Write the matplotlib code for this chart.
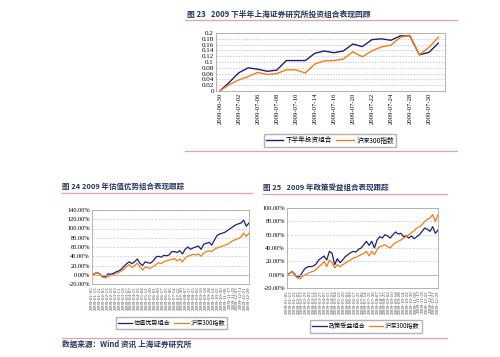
import numpy as np
import matplotlib
matplotlib.use("Agg")
import matplotlib.pyplot as plt
from matplotlib.lines import Line2D
from matplotlib.ticker import FuncFormatter

plt.rcParams['font.family'] = ['Noto Sans CJK SC', 'DejaVu Sans']

# ---- 图23 data ----
dates_jul = ['2009-06-30', '2009-07-01', '2009-07-02', '2009-07-03', '2009-07-06', '2009-07-07',
             '2009-07-08', '2009-07-09', '2009-07-10', '2009-07-13', '2009-07-14', '2009-07-15',
             '2009-07-16', '2009-07-17', '2009-07-20', '2009-07-21', '2009-07-22', '2009-07-23',
             '2009-07-24', '2009-07-27', '2009-07-28', '2009-07-29', '2009-07-30', '2009-07-31']
portfolio_h2 = [0, 0.03, 0.063, 0.08, 0.075, 0.068, 0.072, 0.105, 0.105, 0.105, 0.13, 0.138,
                0.132, 0.138, 0.162, 0.153, 0.177, 0.18, 0.175, 0.19, 0.19, 0.125, 0.133, 0.165]
hs300_h2 = [0, 0.022, 0.038, 0.05, 0.064, 0.057, 0.06, 0.073, 0.073, 0.062, 0.093, 0.104,
            0.105, 0.11, 0.135, 0.118, 0.138, 0.152, 0.158, 0.185, 0.192, 0.125, 0.15, 0.185]

# ---- 图24 / 图25 data (%) ----
dates_2009 = ['2009-01-05', '2009-01-13', '2009-01-21', '2009-02-05', '2009-02-13', '2009-02-23',
              '2009-03-03', '2009-03-11', '2009-03-19', '2009-03-27', '2009-04-07', '2009-04-15',
              '2009-04-23', '2009-05-04', '2009-05-12', '2009-05-20', '2009-06-01', '2009-06-09',
              '2009-06-17', '2009-06-25', '2009-07-06', '2009-07-14', '2009-07-22', '2009-07-30',
              '2009-08-07', '2009-08-17', '2009-08-25', '2009-09-02', '2009-09-10', '2009-09-18',
              '2009-09-28', '2009-10-14', '2009-10-22', '2009-10-30', '2009-11-09', '2009-11-17',
              '2009-11-25', '2009-12-03', '2009-12-11', '2009-12-21', '2009-12-29']
value_port = [0, 2, 5, 1, -4, -5, 2, 1, 3, 6, 8, 12, 18, 24, 28, 24, 28, 34, 25, 20,
              28, 26, 25, 30, 38, 40, 38, 42, 41, 43, 50, 50, 48, 52, 45, 55, 60, 55, 58, 60,
              62, 55, 66, 68, 70, 64, 75, 85, 88, 90, 92, 96, 100, 104, 108, 110, 112, 118, 105, 112]
hs300_24 = [0, 3, 5, 0, -5, -7, -4, -2, 0, 3, 5, 8, 12, 18, 22, 16, 20, 25, 18, 10,
            17, 15, 14, 18, 22, 26, 24, 28, 30, 32, 33, 35, 30, 34, 28, 36, 40, 42, 44, 43,
            45, 40, 47, 50, 52, 50, 55, 58, 60, 62, 64, 66, 70, 74, 76, 78, 82, 90, 83, 90]
policy_port = [0, 2, 5, 0, -4, -2, 5, 10, 12, 12, 13, 16, 22, 25, 28, 22, 35, 32, 15, 24,
               18, 22, 27, 30, 33, 35, 34, 38, 40, 45, 50, 44, 50, 40, 52, 57, 55, 60, 58, 55,
               60, 64, 61, 62, 57, 58, 55, 58, 54, 57, 60, 65, 70, 68, 65, 72, 62, 67]
hs300_25 = [0, 2, 5, -2, -5, -6, -2, 0, 2, 4, 5, 8, 12, 15, 20, 12, 22, 18, 10, 15,
            12, 15, 17, 20, 22, 25, 26, 28, 30, 32, 35, 28, 35, 30, 38, 42, 43, 45, 42, 40,
            45, 48, 50, 52, 55, 57, 60, 63, 66, 70, 72, 75, 80, 83, 85, 90, 80, 90]

navy = '#1c1f78'
orange = '#f07d1a'
title_c = '#27365f'
red_c = '#e3a3a3'
serif = ['Liberation Serif', 'DejaVu Serif']

W, H = 500, 357
fig = plt.figure(figsize=(5, 3.57), dpi=100)


def ax_at(x0, y0, x1, y1):
    return fig.add_axes([x0 / W, 1 - y1 / H, (x1 - x0) / W, (y1 - y0) / H])


def hline(x0, x1, y):
    fig.add_artist(Line2D([x0 / W, x1 / W], [1 - y / H, 1 - y / H], color=red_c, lw=0.9,
                          transform=fig.transFigure))


def style(ax):
    for s in ax.spines.values():
        s.set_color('#a8a8a8')
        s.set_linewidth(0.6)
    ax.tick_params(length=0, pad=1.5)
    ax.set_axisbelow(True)


# ---- 图23 ----
fig.text(187 / W, 1 - 14 / H, '图 23   2009 下半年上海证券研究所投资组合表现回顾', fontsize=5.6,
         fontweight='bold', color=title_c, va='center')
hline(185, 457, 20)
ax1 = ax_at(216, 33, 445, 91)
x1 = np.arange(len(dates_jul))
ax1.plot(x1, portfolio_h2, color=navy, lw=1.0, label='下半年投资组合')
ax1.plot(x1, hs300_h2, color=orange, lw=1.0, label='沪深300指数')
ax1.set_xlim(-0.4, len(dates_jul) - 0.3)
ax1.set_ylim(0, 0.2)
ax1.set_yticks(np.arange(0, 0.201, 0.02))
ax1.yaxis.set_major_formatter(FuncFormatter(lambda v, p: '0' if v < 1e-9 else ('%.2f' % v).rstrip('0')))
ax1.set_xticks(x1[::2])
ax1.set_xticklabels(dates_jul[::2], rotation=90, fontsize=4.8, family=serif)
for t in ax1.get_yticklabels():
    t.set_fontsize(5)
    t.set_family(serif)
ax1.grid(axis='y', color='#b8b8b8', lw=0.5, ls=(0, (2, 2)))
style(ax1)
fig.legend(*ax1.get_legend_handles_labels(), loc='center', bbox_to_anchor=(330 / W, 1 - 140.5 / H),
           ncol=2, fontsize=4.8, frameon=True, fancybox=False, edgecolor='#a0a0a0',
           handlelength=2.6, columnspacing=0.6, handletextpad=0.4, borderpad=0.35, borderaxespad=0)
hline(185, 457, 150.5)


def pct_fmt(v, p):
    return '%.2f%%' % v


def bottom_chart(box, title, tx, ty, line, series, names, ymax, leg_c):
    fig.text(tx / W, 1 - ty / H, title, fontsize=5.4, fontweight='bold', color=title_c, va='center')
    hline(*line)
    ax = ax_at(*box)
    xs = np.arange(len(series[0]))
    ax.plot(xs, series[0], color=navy, lw=0.9, label=names[0])
    ax.plot(xs, series[1], color=orange, lw=0.9, label=names[1])
    ax.set_xlim(0, len(xs) - 1)
    ax.set_ylim(-20, ymax)
    ax.set_yticks(np.arange(-20, ymax + 1, 20))
    ax.yaxis.set_major_formatter(FuncFormatter(pct_fmt))
    for t in ax.get_yticklabels():
        t.set_fontsize(4.6)
        t.set_family(serif)
    ax.set_xticks(np.linspace(0, len(xs) - 1, len(dates_2009)))
    ax.set_xticklabels(dates_2009, rotation=90, fontsize=3.6, family=serif, color='#444444')
    ax.grid(axis='y', color='#c8c8c8', lw=0.5, ls=(0, (3, 2)))
    ax.axhline(0, color='#b0b0b0', lw=0.6)
    style(ax)
    fig.legend(*ax.get_legend_handles_labels(), loc='center', bbox_to_anchor=(leg_c[0] / W, 1 - leg_c[1] / H),
               ncol=2, fontsize=4.4, frameon=True, fancybox=False, edgecolor='#a0a0a0',
               handlelength=2.4, columnspacing=0.5, handletextpad=0.3, borderpad=0.35, borderaxespad=0)
    return ax


bottom_chart((92, 210, 249, 284), '图 24 2009 年估值优势组合表现跟踪', 62, 186, (62, 252, 192.5),
             (value_port, hs300_24), ('估值优势组合', '沪深300指数'), 140, (171.5, 323))
bottom_chart((287, 208, 438, 288), '图 25   2009 年政策受益组合表现跟踪', 263, 187, (263, 447, 193.5),
             (policy_port, hs300_25), ('政策受益组合', '沪深300指数'), 100, (366, 326.5))

# ---- footer ----
hline(62, 447, 337.5)
fig.text(62 / W, 1 - 344 / H, '数据来源：Wind 资讯 上海证券研究所', fontsize=5.5, fontweight='bold',
         fontstyle='italic', color=title_c, va='center')

fig.savefig('out.png', dpi=100)
